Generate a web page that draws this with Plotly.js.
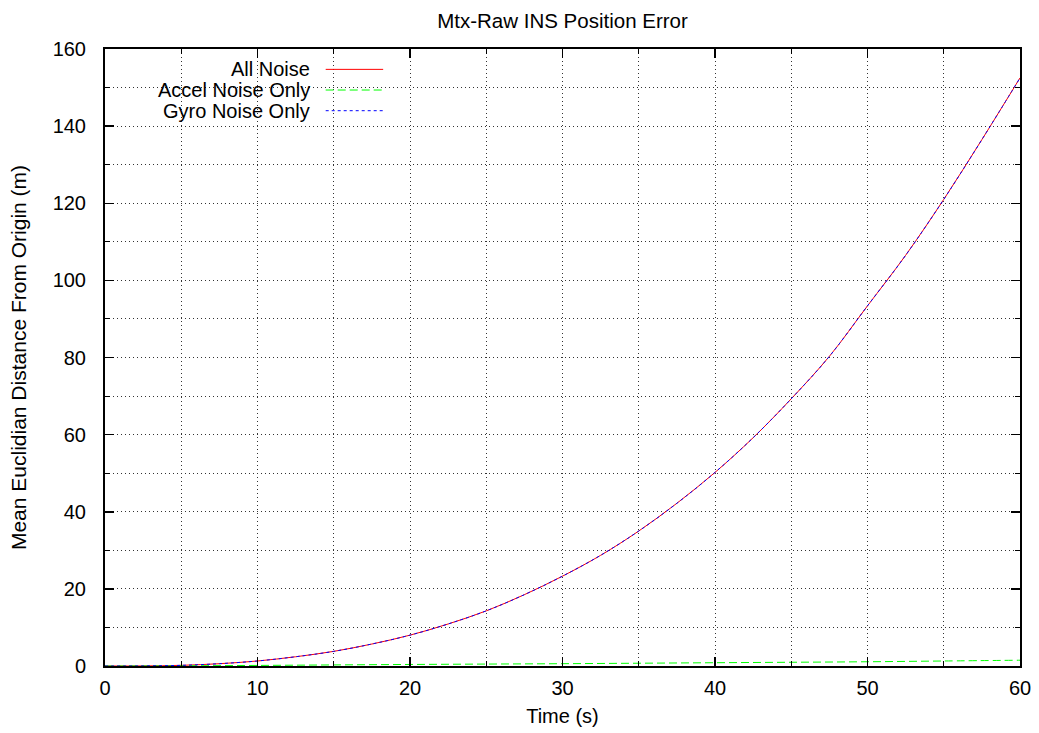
<!DOCTYPE html>
<html>
<head>
<meta charset="utf-8">
<script src="https://cdn.plot.ly/plotly-3.0.1.min.js"></script>
<style>html,body{margin:0;padding:0;background:#fff;}#chart{width:1039px;height:733px;}</style>
</head>
<body>
<div id="chart"></div>
<script>
// Time (s)
const timeS = [0, 2.5, 5, 7.5, 10, 12.5, 15, 17.5, 20, 22.5, 25, 27.5, 30, 32.5, 35, 37.5, 40, 42.5, 45, 47.5, 50, 52.5, 55, 57.5, 60];
// Mean Euclidian distance from origin (m)
const allNoise = [0, 0.02, 0.17, 0.6, 1.3, 2.4, 3.8, 5.7, 8.0, 10.9, 14.3, 18.5, 23.3, 28.7, 35.0, 42.2, 50.2, 59.2, 69.3, 80.3, 93.4, 106.5, 121.0, 136.5, 152.5];
const gyroNoiseOnly = [0, 0.02, 0.17, 0.6, 1.3, 2.4, 3.8, 5.7, 8.0, 10.9, 14.3, 18.5, 23.3, 28.7, 35.0, 42.2, 50.2, 59.2, 69.3, 80.3, 93.4, 106.5, 121.0, 136.5, 152.5];
const accelTime = [0, 5, 10, 15, 20, 25, 30, 35, 40, 45, 50, 55, 60];
const accelNoiseOnly = [0, 0.05, 0.15, 0.28, 0.4, 0.5, 0.6, 0.72, 0.85, 0.97, 1.1, 1.3, 1.5];

const seriesNames = ['All Noise', 'Accel Noise Only', 'Gyro Noise Only'];
const seriesColors = ['#ff0000', '#00ff00', '#0000ff'];
const seriesDash = ['solid', '8px,4px', '3px,3px'];

const FONT = 'Liberation Sans, Arial, Helvetica, sans-serif';
const FS = 20;
const FS_TITLE = 20.5;

const traces = [
  {x: timeS, y: allNoise, name: seriesNames[0], mode: 'lines', line: {color: seriesColors[0], width: 1, dash: seriesDash[0], shape: 'spline'}},
  {x: accelTime, y: accelNoiseOnly, name: seriesNames[1], mode: 'lines', line: {color: seriesColors[1], width: 1, dash: seriesDash[1], shape: 'spline'}},
  {x: timeS, y: gyroNoiseOnly, name: seriesNames[2], mode: 'lines', line: {color: seriesColors[2], width: 1, dash: seriesDash[2], shape: 'spline'}}
];

// Legend drawn manually: text right-aligned, sample line to the right (gnuplot style)
const legY = [0.967, 0.9335, 0.900];
const annotations = seriesNames.map((n, i) => ({
  xref: 'paper', yref: 'paper', x: 0.2262, y: legY[i], xanchor: 'right', yanchor: 'middle',
  text: n, showarrow: false, font: {family: FONT, size: FS, color: '#000'}
}));
const shapes = seriesNames.map((n, i) => ({
  type: 'line', xref: 'paper', yref: 'paper', x0: 0.2412, x1: 0.304, y0: legY[i], y1: legY[i],
  line: {color: seriesColors[i], width: 1, dash: seriesDash[i]}
}));

const gridCol = '#333';
const gridDash = '1px,3px';
const layout = {
  width: 1039, height: 733,
  margin: {l: 105, r: 19, t: 49, b: 67},
  paper_bgcolor: '#fff', plot_bgcolor: '#fff',
  showlegend: false,
  font: {family: FONT, size: FS, color: '#000'},
  title: {text: 'Mtx-Raw INS Position Error', font: {family: FONT, size: FS_TITLE, color: '#000'}, xref: 'paper', x: 0.5, xanchor: 'center', y: 0.972, yanchor: 'middle'},
  xaxis: {
    range: [0, 60], dtick: 10, tick0: 0,
    ticks: 'inside', ticklen: 9, tickwidth: 1.5, tickcolor: '#000',
    showline: true, linecolor: '#000', linewidth: 2, mirror: 'allticks',
    showgrid: true, gridcolor: gridCol, griddash: gridDash, gridwidth: 1,
    zeroline: false,
    minor: {dtick: 5, ticks: 'inside', ticklen: 5, tickwidth: 1, tickcolor: '#000', showgrid: true, gridcolor: gridCol, griddash: gridDash, gridwidth: 1},
    tickfont: {family: FONT, size: FS, color: '#000'},
    ticklabelstandoff: 3,
    title: {text: 'Time (s)', font: {family: FONT, size: FS, color: '#000'}, standoff: 11}
  },
  yaxis: {
    range: [0, 160], dtick: 20, tick0: 0,
    ticks: 'inside', ticklen: 9, tickwidth: 1.5, tickcolor: '#000',
    showline: true, linecolor: '#000', linewidth: 2, mirror: 'allticks',
    showgrid: true, gridcolor: gridCol, griddash: gridDash, gridwidth: 1,
    zeroline: false,
    minor: {dtick: 10, ticks: 'inside', ticklen: 5, tickwidth: 1, tickcolor: '#000', showgrid: true, gridcolor: gridCol, griddash: gridDash, gridwidth: 1},
    tickfont: {family: FONT, size: FS, color: '#000'},
    ticklabelstandoff: 13,
    title: {text: 'Mean Euclidian Distance From Origin (m)', font: {family: FONT, size: 21, color: '#000'}, standoff: 20}
  },
  annotations: annotations,
  shapes: shapes
};

Plotly.newPlot('chart', traces, layout, {displayModeBar: false, staticPlot: true});
</script>
</body>
</html>
